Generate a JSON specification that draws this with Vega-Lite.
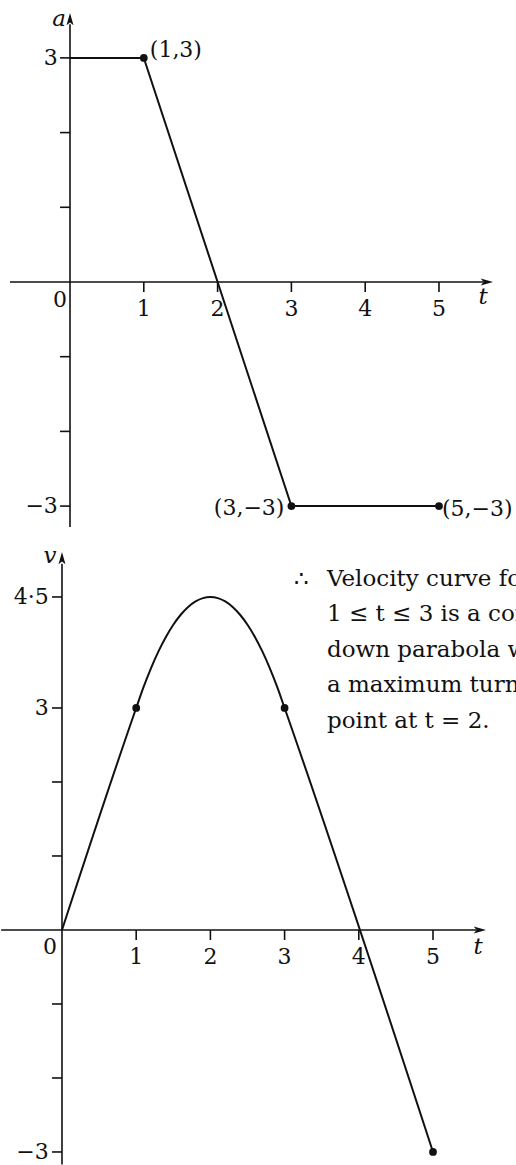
{
  "$schema": "https://vega.github.io/schema/vega-lite/v6.json",
  "description": "Acceleration-time graph and the velocity-time graph obtained from it.",
  "padding": 0,
  "spacing": 0,
  "background": "white",
  "config": {
    "view": {"stroke": null},
    "rule": {"color": "#111", "strokeWidth": 1.6},
    "line": {"color": "#111", "strokeWidth": 2},
    "point": {"color": "#111", "filled": true, "opacity": 1},
    "text": {"font": "DejaVu Serif", "fontSize": 22, "color": "#111"}
  },
  "datasets": {
    "accel": [
      {"t": 0, "a": 3}, {"t": 1, "a": 3}, {"t": 3, "a": -3}, {"t": 5, "a": -3}
    ],
    "accelDots": [
      {"t": 1, "a": 3, "label": "(1,3)"},
      {"t": 3, "a": -3, "label": "(3,−3)"},
      {"t": 5, "a": -3, "label": "(5,−3)"}
    ],
    "aTicks": [
      {"a": 3, "label": "3"}, {"a": 2, "label": ""}, {"a": 1, "label": ""},
      {"a": -1, "label": ""}, {"a": -2, "label": ""}, {"a": -3, "label": "−3"}
    ],
    "tTicks": [{"t": 1}, {"t": 2}, {"t": 3}, {"t": 4}, {"t": 5}],
    "veloc": [
      {"t": 0, "v": 0}, {"t": 1, "v": 3},
      {"t": 1.1, "v": 3.285}, {"t": 1.2, "v": 3.54}, {"t": 1.3, "v": 3.765},
      {"t": 1.4, "v": 3.96}, {"t": 1.5, "v": 4.125}, {"t": 1.6, "v": 4.26},
      {"t": 1.7, "v": 4.365}, {"t": 1.8, "v": 4.44}, {"t": 1.9, "v": 4.485},
      {"t": 2, "v": 4.5},
      {"t": 2.1, "v": 4.485}, {"t": 2.2, "v": 4.44}, {"t": 2.3, "v": 4.365},
      {"t": 2.4, "v": 4.26}, {"t": 2.5, "v": 4.125}, {"t": 2.6, "v": 3.96},
      {"t": 2.7, "v": 3.765}, {"t": 2.8, "v": 3.54}, {"t": 2.9, "v": 3.285},
      {"t": 3, "v": 3}, {"t": 5, "v": -3}
    ],
    "velocDots": [{"t": 1, "v": 3}, {"t": 3, "v": 3}, {"t": 5, "v": -3}],
    "vTicks": [
      {"v": 4.5, "label": "4·5"}, {"v": 3, "label": "3"}, {"v": 2, "label": ""},
      {"v": 1, "label": ""}, {"v": -1, "label": ""}, {"v": -2, "label": ""},
      {"v": -3, "label": "−3"}
    ],
    "notes": [
      {"t": 3.127, "v": 4.649, "text": "∴"},
      {"t": 3.571, "v": 4.649, "text": "Velocity curve for\n1 ≤ t ≤ 3 is a concave\ndown parabola with\na maximum turning\npoint at t = 2."}
    ]
  },
  "vconcat": [
    {
      "width": 516,
      "height": 540,
      "layer": [
        {
          "data": {"values": [{}]},
          "mark": {"type": "rule"},
          "encoding": {
            "x": {"datum": 0, "type": "quantitative", "scale": {"domain": [-0.935, 6.057], "nice": false, "zero": false}, "axis": null},
            "y": {"datum": -3.28, "type": "quantitative", "scale": {"domain": [-3.454, 3.775], "nice": false, "zero": false}, "axis": null},
            "y2": {"datum": 3.45}
          }
        },
        {
          "data": {"values": [{}]},
          "mark": {"type": "rule"},
          "encoding": {
            "x": {"datum": -0.813, "type": "quantitative", "scale": {"domain": [-0.935, 6.057], "nice": false, "zero": false}, "axis": null},
            "x2": {"datum": 5.6},
            "y": {"datum": 0, "type": "quantitative", "scale": {"domain": [-3.454, 3.775], "nice": false, "zero": false}, "axis": null}
          }
        },
        {
          "data": {"values": [{}]},
          "mark": {"type": "point", "shape": "M0,-1L0.5,0.75L0,0.35L-0.5,0.75Z", "size": 196},
          "encoding": {
            "x": {"datum": 0, "type": "quantitative", "scale": {"domain": [-0.935, 6.057], "nice": false, "zero": false}, "axis": null},
            "y": {"datum": 3.507, "type": "quantitative", "scale": {"domain": [-3.454, 3.775], "nice": false, "zero": false}, "axis": null}
          }
        },
        {
          "data": {"values": [{}]},
          "mark": {"type": "point", "shape": "M0,-1L0.5,0.75L0,0.35L-0.5,0.75Z", "size": 196, "angle": 90},
          "encoding": {
            "x": {"datum": 5.637, "type": "quantitative", "scale": {"domain": [-0.935, 6.057], "nice": false, "zero": false}, "axis": null},
            "y": {"datum": 0, "type": "quantitative", "scale": {"domain": [-3.454, 3.775], "nice": false, "zero": false}, "axis": null}
          }
        },
        {
          "data": {"name": "aTicks"},
          "mark": {"type": "rule"},
          "encoding": {
            "x": {"datum": -0.135, "type": "quantitative", "scale": {"domain": [-0.935, 6.057], "nice": false, "zero": false}, "axis": null},
            "x2": {"datum": 0},
            "y": {"field": "a", "type": "quantitative", "scale": {"domain": [-3.454, 3.775], "nice": false, "zero": false}, "axis": null}
          }
        },
        {
          "data": {"name": "aTicks"},
          "transform": [{"filter": "datum.label !== ''"}],
          "mark": {"type": "text", "align": "right", "baseline": "middle"},
          "encoding": {
            "x": {"datum": -0.165, "type": "quantitative", "scale": {"domain": [-0.935, 6.057], "nice": false, "zero": false}, "axis": null},
            "y": {"field": "a", "type": "quantitative", "scale": {"domain": [-3.454, 3.775], "nice": false, "zero": false}, "axis": null},
            "text": {"field": "label"}
          }
        },
        {
          "data": {"name": "tTicks"},
          "mark": {"type": "rule"},
          "encoding": {
            "x": {"field": "t", "type": "quantitative", "scale": {"domain": [-0.935, 6.057], "nice": false, "zero": false}, "axis": null},
            "y": {"datum": 0, "type": "quantitative", "scale": {"domain": [-3.454, 3.775], "nice": false, "zero": false}, "axis": null},
            "y2": {"datum": -0.134}
          }
        },
        {
          "data": {"name": "tTicks"},
          "mark": {"type": "text", "align": "center", "baseline": "middle"},
          "encoding": {
            "x": {"field": "t", "type": "quantitative", "scale": {"domain": [-0.935, 6.057], "nice": false, "zero": false}, "axis": null},
            "y": {"datum": -0.36, "type": "quantitative", "scale": {"domain": [-3.454, 3.775], "nice": false, "zero": false}, "axis": null},
            "text": {"field": "t", "type": "quantitative"}
          }
        },
        {
          "data": {"values": [{}]},
          "mark": {"type": "text", "text": "0", "align": "center", "baseline": "middle", "dx": -10, "dy": 18},
          "encoding": {
            "x": {"datum": 0, "type": "quantitative", "scale": {"domain": [-0.935, 6.057], "nice": false, "zero": false}, "axis": null},
            "y": {"datum": 0, "type": "quantitative", "scale": {"domain": [-3.454, 3.775], "nice": false, "zero": false}, "axis": null}
          }
        },
        {
          "data": {"values": [{}]},
          "mark": {"type": "text", "text": "a", "fontStyle": "italic", "fontSize": 23, "align": "center", "baseline": "middle", "dx": -11, "dy": -1},
          "encoding": {
            "x": {"datum": 0, "type": "quantitative", "scale": {"domain": [-0.935, 6.057], "nice": false, "zero": false}, "axis": null},
            "y": {"datum": 3.507, "type": "quantitative", "scale": {"domain": [-3.454, 3.775], "nice": false, "zero": false}, "axis": null}
          }
        },
        {
          "data": {"values": [{}]},
          "mark": {"type": "text", "text": "t", "fontStyle": "italic", "fontSize": 23, "align": "center", "baseline": "middle", "dx": -3, "dy": 15},
          "encoding": {
            "x": {"datum": 5.637, "type": "quantitative", "scale": {"domain": [-0.935, 6.057], "nice": false, "zero": false}, "axis": null},
            "y": {"datum": 0, "type": "quantitative", "scale": {"domain": [-3.454, 3.775], "nice": false, "zero": false}, "axis": null}
          }
        },
        {
          "data": {"name": "accel"},
          "mark": {"type": "line"},
          "encoding": {
            "x": {"field": "t", "type": "quantitative", "scale": {"domain": [-0.935, 6.057], "nice": false, "zero": false}, "axis": null},
            "y": {"field": "a", "type": "quantitative", "scale": {"domain": [-3.454, 3.775], "nice": false, "zero": false}, "axis": null}
          }
        },
        {
          "data": {"name": "accelDots"},
          "mark": {"type": "point", "shape": "circle", "size": 60},
          "encoding": {
            "x": {"field": "t", "type": "quantitative", "scale": {"domain": [-0.935, 6.057], "nice": false, "zero": false}, "axis": null},
            "y": {"field": "a", "type": "quantitative", "scale": {"domain": [-3.454, 3.775], "nice": false, "zero": false}, "axis": null}
          }
        },
        {
          "data": {"name": "accelDots"},
          "transform": [{"filter": "datum.t === 1"}],
          "mark": {"type": "text", "align": "left", "baseline": "middle", "dx": 6, "dy": -8},
          "encoding": {
            "x": {"field": "t", "type": "quantitative", "scale": {"domain": [-0.935, 6.057], "nice": false, "zero": false}, "axis": null},
            "y": {"field": "a", "type": "quantitative", "scale": {"domain": [-3.454, 3.775], "nice": false, "zero": false}, "axis": null},
            "text": {"field": "label"}
          }
        },
        {
          "data": {"name": "accelDots"},
          "transform": [{"filter": "datum.t === 3"}],
          "mark": {"type": "text", "align": "right", "baseline": "middle", "dx": -7, "dy": 2},
          "encoding": {
            "x": {"field": "t", "type": "quantitative", "scale": {"domain": [-0.935, 6.057], "nice": false, "zero": false}, "axis": null},
            "y": {"field": "a", "type": "quantitative", "scale": {"domain": [-3.454, 3.775], "nice": false, "zero": false}, "axis": null},
            "text": {"field": "label"}
          }
        },
        {
          "data": {"name": "accelDots"},
          "transform": [{"filter": "datum.t === 5"}],
          "mark": {"type": "text", "align": "left", "baseline": "middle", "dx": 3, "dy": 3},
          "encoding": {
            "x": {"field": "t", "type": "quantitative", "scale": {"domain": [-0.935, 6.057], "nice": false, "zero": false}, "axis": null},
            "y": {"field": "a", "type": "quantitative", "scale": {"domain": [-3.454, 3.775], "nice": false, "zero": false}, "axis": null},
            "text": {"field": "label"}
          }
        }
      ]
    },
    {
      "width": 516,
      "height": 625,
      "layer": [
        {
          "data": {"values": [{}]},
          "mark": {"type": "rule"},
          "encoding": {
            "x": {"datum": 0, "type": "quantitative", "scale": {"domain": [-0.822, 6.132], "nice": false, "zero": false}, "axis": null},
            "y": {"datum": -3.17, "type": "quantitative", "scale": {"domain": [-3.176, 5.27], "nice": false, "zero": false}, "axis": null},
            "y2": {"datum": 4.95}
          }
        },
        {
          "data": {"values": [{}]},
          "mark": {"type": "rule"},
          "encoding": {
            "x": {"datum": -0.82, "type": "quantitative", "scale": {"domain": [-0.822, 6.132], "nice": false, "zero": false}, "axis": null},
            "x2": {"datum": 5.58},
            "y": {"datum": 0, "type": "quantitative", "scale": {"domain": [-3.176, 5.27], "nice": false, "zero": false}, "axis": null}
          }
        },
        {
          "data": {"values": [{}]},
          "mark": {"type": "point", "shape": "M0,-1L0.5,0.75L0,0.35L-0.5,0.75Z", "size": 196},
          "encoding": {
            "x": {"datum": 0, "type": "quantitative", "scale": {"domain": [-0.822, 6.132], "nice": false, "zero": false}, "axis": null},
            "y": {"datum": 5.014, "type": "quantitative", "scale": {"domain": [-3.176, 5.27], "nice": false, "zero": false}, "axis": null}
          }
        },
        {
          "data": {"values": [{}]},
          "mark": {"type": "point", "shape": "M0,-1L0.5,0.75L0,0.35L-0.5,0.75Z", "size": 196, "angle": 90},
          "encoding": {
            "x": {"datum": 5.62, "type": "quantitative", "scale": {"domain": [-0.822, 6.132], "nice": false, "zero": false}, "axis": null},
            "y": {"datum": 0, "type": "quantitative", "scale": {"domain": [-3.176, 5.27], "nice": false, "zero": false}, "axis": null}
          }
        },
        {
          "data": {"name": "vTicks"},
          "mark": {"type": "rule"},
          "encoding": {
            "x": {"datum": -0.135, "type": "quantitative", "scale": {"domain": [-0.822, 6.132], "nice": false, "zero": false}, "axis": null},
            "x2": {"datum": 0},
            "y": {"field": "v", "type": "quantitative", "scale": {"domain": [-3.176, 5.27], "nice": false, "zero": false}, "axis": null}
          }
        },
        {
          "data": {"name": "vTicks"},
          "transform": [{"filter": "datum.label !== ''"}],
          "mark": {"type": "text", "align": "right", "baseline": "middle"},
          "encoding": {
            "x": {"datum": -0.18, "type": "quantitative", "scale": {"domain": [-0.822, 6.132], "nice": false, "zero": false}, "axis": null},
            "y": {"field": "v", "type": "quantitative", "scale": {"domain": [-3.176, 5.27], "nice": false, "zero": false}, "axis": null},
            "text": {"field": "label"}
          }
        },
        {
          "data": {"name": "tTicks"},
          "mark": {"type": "rule"},
          "encoding": {
            "x": {"field": "t", "type": "quantitative", "scale": {"domain": [-0.822, 6.132], "nice": false, "zero": false}, "axis": null},
            "y": {"datum": 0, "type": "quantitative", "scale": {"domain": [-3.176, 5.27], "nice": false, "zero": false}, "axis": null},
            "y2": {"datum": -0.135}
          }
        },
        {
          "data": {"name": "tTicks"},
          "mark": {"type": "text", "align": "center", "baseline": "middle"},
          "encoding": {
            "x": {"field": "t", "type": "quantitative", "scale": {"domain": [-0.822, 6.132], "nice": false, "zero": false}, "axis": null},
            "y": {"datum": -0.365, "type": "quantitative", "scale": {"domain": [-3.176, 5.27], "nice": false, "zero": false}, "axis": null},
            "text": {"field": "t", "type": "quantitative"}
          }
        },
        {
          "data": {"values": [{}]},
          "mark": {"type": "text", "text": "0", "align": "center", "baseline": "middle", "dx": -12, "dy": 17},
          "encoding": {
            "x": {"datum": 0, "type": "quantitative", "scale": {"domain": [-0.822, 6.132], "nice": false, "zero": false}, "axis": null},
            "y": {"datum": 0, "type": "quantitative", "scale": {"domain": [-3.176, 5.27], "nice": false, "zero": false}, "axis": null}
          }
        },
        {
          "data": {"values": [{}]},
          "mark": {"type": "text", "text": "v", "fontStyle": "italic", "fontSize": 23, "align": "center", "baseline": "middle", "dx": -12, "dy": -3},
          "encoding": {
            "x": {"datum": 0, "type": "quantitative", "scale": {"domain": [-0.822, 6.132], "nice": false, "zero": false}, "axis": null},
            "y": {"datum": 5.014, "type": "quantitative", "scale": {"domain": [-3.176, 5.27], "nice": false, "zero": false}, "axis": null}
          }
        },
        {
          "data": {"values": [{}]},
          "mark": {"type": "text", "text": "t", "fontStyle": "italic", "fontSize": 23, "align": "center", "baseline": "middle", "dx": -1, "dy": 17},
          "encoding": {
            "x": {"datum": 5.62, "type": "quantitative", "scale": {"domain": [-0.822, 6.132], "nice": false, "zero": false}, "axis": null},
            "y": {"datum": 0, "type": "quantitative", "scale": {"domain": [-3.176, 5.27], "nice": false, "zero": false}, "axis": null}
          }
        },
        {
          "data": {"name": "veloc"},
          "mark": {"type": "line", "interpolate": "monotone"},
          "encoding": {
            "x": {"field": "t", "type": "quantitative", "scale": {"domain": [-0.822, 6.132], "nice": false, "zero": false}, "axis": null},
            "y": {"field": "v", "type": "quantitative", "scale": {"domain": [-3.176, 5.27], "nice": false, "zero": false}, "axis": null}
          }
        },
        {
          "data": {"name": "velocDots"},
          "mark": {"type": "point", "shape": "circle", "size": 60},
          "encoding": {
            "x": {"field": "t", "type": "quantitative", "scale": {"domain": [-0.822, 6.132], "nice": false, "zero": false}, "axis": null},
            "y": {"field": "v", "type": "quantitative", "scale": {"domain": [-3.176, 5.27], "nice": false, "zero": false}, "axis": null}
          }
        },
        {
          "data": {"name": "notes"},
          "mark": {"type": "text", "fontSize": 23, "align": "left", "baseline": "alphabetic", "lineBreak": "\n", "lineHeight": 35.5, "clip": true},
          "encoding": {
            "x": {"field": "t", "type": "quantitative", "scale": {"domain": [-0.822, 6.132], "nice": false, "zero": false}, "axis": null},
            "y": {"field": "v", "type": "quantitative", "scale": {"domain": [-3.176, 5.27], "nice": false, "zero": false}, "axis": null},
            "text": {"field": "text"}
          }
        }
      ]
    }
  ]
}
